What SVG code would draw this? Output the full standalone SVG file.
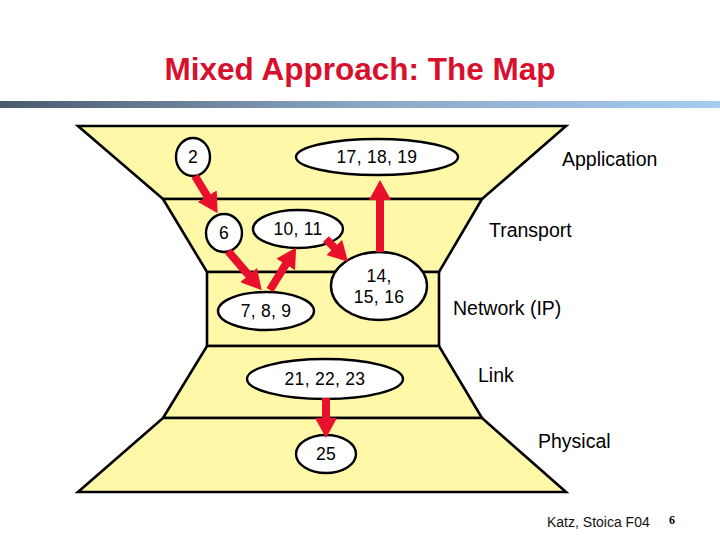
<svg xmlns="http://www.w3.org/2000/svg" width="720" height="540" viewBox="0 0 720 540">
<style>
.band{fill:#FFF8A8;stroke:#000;stroke-width:2.6;stroke-linejoin:miter}
.node{fill:#fff;stroke:#000;stroke-width:2.4}
.lbl{font-family:"Liberation Sans",Arial,sans-serif;font-size:17.5px;letter-spacing:0.3px;fill:#000;text-anchor:middle}
.layer{font-family:"Liberation Sans",Arial,sans-serif;font-size:19.5px;fill:#000}
.arr{stroke:#E8102A;stroke-width:8;fill:none;marker-end:url(#head)}
</style>
<defs>
<linearGradient id="bar" x1="0" y1="0" x2="1" y2="0">
<stop offset="0" stop-color="#4A5A6C"/>
<stop offset="0.5" stop-color="#8AA6C6"/>
<stop offset="1" stop-color="#A6CCF2"/>
</linearGradient>
<marker id="head" viewBox="0 0 20 22" refX="1" refY="11" markerWidth="20" markerHeight="22" markerUnits="userSpaceOnUse" orient="auto">
<path d="M0,0 L20,11 L0,22 z" fill="#E8102A"/>
</marker>
</defs>
<rect width="720" height="540" fill="#fff"/>
<text x="360" y="80" font-family="Liberation Sans,Arial,sans-serif" font-size="31.5" font-weight="bold" fill="#D8102E" text-anchor="middle">Mixed Approach: The Map</text>
<rect x="0" y="101" width="720" height="7" fill="url(#bar)"/>

<g id="layers">
<polygon class="band" points="78,126 566,126 482,199 163,199"/>
<polygon class="band" points="163,199 482,199 439,272 207,272"/>
<polygon class="band" points="207,272 439,272 439,346 207,346"/>
<polygon class="band" points="207,346 439,346 482,418 163,418"/>
<polygon class="band" points="163,418 482,418 566,492 78,492"/>
</g>

<g id="layer-labels">
<text class="layer" x="562" y="166">Application</text>
<text class="layer" x="489" y="237">Transport</text>
<text class="layer" x="453" y="315">Network (IP)</text>
<text class="layer" x="478" y="382">Link</text>
<text class="layer" x="538" y="448">Physical</text>
</g>

<g id="n2"><ellipse class="node" cx="193" cy="157" rx="17" ry="19"/><text class="lbl" x="193" y="163">2</text></g>
<g id="n17"><ellipse class="node" cx="377" cy="157" rx="81" ry="18"/><text class="lbl" x="377" y="163">17, 18, 19</text></g>
<g id="n6"><ellipse class="node" cx="224" cy="233" rx="18" ry="19"/><text class="lbl" x="224" y="239">6</text></g>
<g id="n10"><ellipse class="node" cx="298" cy="229" rx="45" ry="19"/><text class="lbl" x="298" y="235">10, 11</text></g>
<g id="n14"><ellipse class="node" cx="379" cy="286" rx="48" ry="34"/><text class="lbl" x="379" y="282">14,</text><text class="lbl" x="379" y="303">15, 16</text></g>
<g id="n7"><ellipse class="node" cx="266" cy="311" rx="48" ry="19"/><text class="lbl" x="266" y="317">7, 8, 9</text></g>
<g id="n21"><ellipse class="node" cx="325" cy="379" rx="78" ry="20"/><text class="lbl" x="325" y="385">21, 22, 23</text></g>
<g id="n25"><ellipse class="node" cx="326" cy="454" rx="30" ry="19"/><text class="lbl" x="326" y="460">25</text></g>

<g id="connectors">
<line class="arr" x1="195" y1="176" x2="207.8" y2="197"/>
<line class="arr" x1="228" y1="251" x2="249.3" y2="275.8"/>
<line class="arr" x1="270" y1="290" x2="286.2" y2="263.6"/>
<line class="arr" x1="326" y1="239" x2="334.9" y2="248.2"/>
<line class="arr" x1="380" y1="252" x2="380" y2="199"/>
<line class="arr" x1="326" y1="398" x2="326" y2="419"/>
</g>

<text x="547" y="527" font-family="Liberation Sans,Arial,sans-serif" font-size="14" fill="#111">Katz, Stoica F04</text>
<text x="669" y="524" font-family="Liberation Serif,Times New Roman,serif" font-size="12" font-weight="bold" fill="#000">6</text>
</svg>
